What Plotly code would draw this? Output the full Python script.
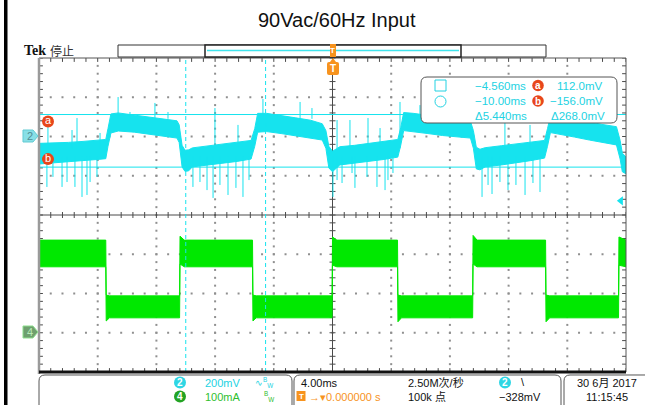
import numpy as np
import plotly.graph_objects as go

# ---------------- scope settings ----------------
TIME_DIV_MS = 4.0          # 4.00ms / div
CH2_MV_DIV = 200.0         # channel 2: 200mV / div
CH4_MA_DIV = 100.0         # channel 4: 100mA / div
CH2_POS_DIV = 2.0          # channel 2 ground marker position (div)
CH4_POS_DIV = -3.0         # channel 4 ground marker position (div)
TRIG_LEVEL_MV = -328.0
CURSOR_T_MS = [-4.560, -10.00]     # cursor a, b (time)
CURSOR_V_MV = [112.0, -156.0]      # cursor a, b (voltage)

# ---------------- channel 2 (cyan) envelope: time ms, upper / lower mV ----------------
ch2_t = [-20.00, -19.00, -18.00, -17.00, -16.00, -15.45,
         -15.30, -15.10, -14.60, -13.50, -12.50, -11.50, -10.60, -10.45,
         -10.25, -10.05, -9.80, -9.55, -8.50, -7.50, -6.50, -5.55,
         -5.30, -5.10, -4.50, -3.50, -2.50, -1.50, -0.70,
         -0.45, -0.25, 0.00, 0.20, 0.50, 1.50, 2.50, 3.50, 4.45,
         4.65, 4.85, 5.50, 6.50, 7.50, 8.50, 9.40,
         9.60, 9.80, 10.05, 10.40, 11.50, 12.50, 13.50, 14.45,
         14.65, 14.85, 15.50, 16.50, 17.50, 18.50, 19.35,
         19.60, 19.75, 20.00]
ch2_hi = [-35, -33, -30, -25, -20, -15,
          40, 115, 120, 110, 100, 90, 80, 60,
          -45, -70, -68, -58, -48, -40, -30, -20,
          40, 118, 118, 108, 95, 83, 65,
          30, -50, -75, -65, -52, -45, -35, -25, -15,
          45, 122, 118, 108, 98, 88, 78,
          30, -55, -65, -57, -47, -37, -27, -20,
          40, 104, 100, 88, 74, 60, 50,
          -20, -85, -105]
ch2_lo = [-140, -135, -130, -123, -117, -113,
          -50, 18, 28, 22, 12, 2, -8, -30,
          -155, -178, -175, -155, -145, -137, -127, -115,
          -50, 22, 25, 15, 2, -8, -18,
          -60, -160, -180, -165, -145, -137, -127, -117, -105,
          -45, 30, 25, 15, 5, -3, -8,
          -60, -165, -170, -155, -145, -135, -123, -110,
          -50, 20, 12, -3, -18, -33, -43,
          -115, -180, -190]

# ---------------- channel 2 glitches: time ms, start mV, end mV ----------------
spike_t = [-19.46, -19.05, -18.43, -18.09, -17.55, -17.07, -16.73, -16.52, -16.05,
           -19.39, -17.75, -17.41, -15.84,
           -14.61, -13.80, -12.10, -11.21,
           -9.51, -9.03, -8.55, -8.14, -7.67, -7.12, -6.58, -6.10, -5.69,
           -8.01, -6.44,
           -4.74, -2.21, -1.40,
           0.03, 0.31, 0.65, 1.33, 1.53, 2.35, 3.03, 3.58, 3.78, 4.12,
           0.31, 1.19, 2.42, 3.24, 4.60,
           5.96, 7.67,
           10.19, 10.60, 10.87, 11.41, 11.96, 12.50, 13.12, 13.66, 14.14,
           11.75, 13.46,
           15.50, 17.55]
spike_from = [-100, -100, -100, -100, -100, -100, -100, -100, -100,
              -60, -60, -60, -60,
              90, 90, 90, 90,
              -100, -100, -100, -100, -100, -100, -100, -100, -100,
              -60, -60,
              90, 90, 90,
              -100, -100, -100, -100, -100, -100, -100, -100, -100, -100,
              -60, -60, -60, -60, -60,
              90, 90,
              -100, -100, -100, -100, -100, -100, -100, -100, -100,
              -60, -60,
              70, 70]
spike_to = [-257, -206, -257, -232, -257, -308, -298, -232, -206,
            48, 33, 94, 18,
            201, 125, 171, 125,
            -257, -232, -273, -313, -247, -298, -262, -308, -222,
            145, 59,
            191, 176, 145,
            -308, -222, -237, -186, -262, -206, -257, -273, -222, -186,
            84, 84, 94, 43, 176,
            160, 145,
            -308, -247, -293, -232, -273, -247, -298, -237, -283,
            94, 59,
            160, 135]

# ---------------- channel 4 (green) envelope: time ms, upper / lower mA ----------------
ch4_t = [-20.00, -15.45, -15.42, -15.20, -10.42, -10.39, -10.10, -5.45, -5.42, -5.20,
         -0.03, 0.00, 0.30, 4.43, 4.46, 4.70, 9.55, 9.58, 9.85, 14.52, 14.55, 14.80,
         19.49, 19.52, 20.00]
ch4_hi = [236, 236, 96, 94, 94, 246, 236, 236, 96, 94,
          94, 244, 236, 236, 96, 94, 94, 248, 236, 236, 96, 94,
          94, 244, 236]
ch4_lo = [168, 168, 30, 38, 38, 175, 168, 168, 30, 38,
          38, 172, 168, 168, 28, 38, 38, 175, 168, 168, 28, 38,
          38, 172, 168]

# ---------------- colours ----------------
CYAN = "#16E3EE"
CYAN_TXT = "#22D2E2"
GREEN = "#00E800"
ORANGE = "#F7931E"
RED = "#E8461A"

# ---------------- geometry ----------------
W, H = 645, 405
PL, PR, PT, PB = 39, 626, 58, 372          # plot area in page pixels
XR = [-5 * TIME_DIV_MS, 5 * TIME_DIV_MS]
YR = [-4, 4]


def d2(v):
    return np.asarray(v, dtype=float) / CH2_MV_DIV + CH2_POS_DIV


def d4(v):
    return np.asarray(v, dtype=float) / CH4_MA_DIV + CH4_POS_DIV


def px(x):
    return (x - PL) / (PR - PL)


def py(y):
    return (PB - y) / (PB - PT)


def band(t, hi, lo, conv):
    xs = list(t) + list(t)[::-1] + [t[0]]
    ys = list(conv(hi)) + list(conv(lo))[::-1] + [conv(hi)[0]]
    return xs, ys


fig = go.Figure()

# graticule dots
gx, gy = [], []
for k in range(-4, 5):
    if k == 0:
        continue
    xv = k * TIME_DIV_MS
    for yv in np.arange(-4, 4.001, 0.2):
        gx.append(xv); gy.append(yv)
for j in range(-3, 4):
    if j == 0:
        continue
    for xv in np.arange(XR[0], XR[1] + 0.001, TIME_DIV_MS / 5):
        gx.append(xv); gy.append(j)
fig.add_trace(go.Scatter(x=gx, y=gy, mode="markers",
                         marker=dict(symbol="square", size=2, color="#8f8f8f", line=dict(width=0)),
                         hoverinfo="skip"))

# centre cross-hair with minor ticks, and edge ticks
cx, cy = [XR[0], XR[1], None, 0, 0, None], [0, 0, None, YR[0], YR[1], None]
tx_len = 3 / (PR - PL) * (XR[1] - XR[0])
ty_len = 3 / (PB - PT) * (YR[1] - YR[0])
for xv in np.arange(XR[0], XR[1] + 0.001, TIME_DIV_MS / 5):
    cx += [xv, xv, None]; cy += [-ty_len, ty_len, None]
    cx += [xv, xv, None]; cy += [YR[1], YR[1] - 1.3 * ty_len, None]
    cx += [xv, xv, None]; cy += [YR[0], YR[0] + 1.3 * ty_len, None]
for yv in np.arange(YR[0], YR[1] + 0.001, 0.2):
    cx += [-tx_len, tx_len, None]; cy += [yv, yv, None]
    cx += [XR[0], XR[0] + 1.3 * tx_len, None]; cy += [yv, yv, None]
    cx += [XR[1], XR[1] - 1.3 * tx_len, None]; cy += [yv, yv, None]
fig.add_trace(go.Scatter(x=cx, y=cy, mode="lines", line=dict(color="#4a4a4a", width=1),
                         hoverinfo="skip"))

# channel 4 band
bx, by = band(ch4_t, ch4_hi, ch4_lo, d4)
fig.add_trace(go.Scatter(x=bx, y=by, mode="lines", line=dict(color=GREEN, width=1),
                         fill="toself", fillcolor=GREEN, hoverinfo="skip"))

# channel 2 band
bx, by = band(ch2_t, ch2_hi, ch2_lo, d2)
fig.add_trace(go.Scatter(x=bx, y=by, mode="lines", line=dict(color=CYAN, width=1),
                         fill="toself", fillcolor=CYAN, hoverinfo="skip"))

# channel 2 glitches
sx, sy = [], []
for t, a, b in zip(spike_t, d2(spike_from), d2(spike_to)):
    sx += [t, t, None]; sy += [a, b, None]
fig.add_trace(go.Scatter(x=sx, y=sy, mode="lines", line=dict(color=CYAN, width=1),
                         hoverinfo="skip"))

# cursors
for v in CURSOR_V_MV:
    fig.add_trace(go.Scatter(x=XR, y=[d2(v)] * 2, mode="lines", line=dict(color=CYAN, width=1),
                             hoverinfo="skip"))
for t in CURSOR_T_MS:
    fig.add_trace(go.Scatter(x=[t, t], y=YR, mode="lines",
                             line=dict(color=CYAN, width=1, dash="4px,3px"), hoverinfo="skip"))

# cursor labels a / b
lab_t = XR[0] + 9 / (PR - PL) * (XR[1] - XR[0])
fig.add_trace(go.Scatter(x=[lab_t, lab_t],
                         y=[d2(CURSOR_V_MV[0]) - 7 / (PB - PT) * 8, d2(CURSOR_V_MV[1]) + 8 / (PB - PT) * 8],
                         mode="markers+text", text=["a", "b"],
                         textfont=dict(color="white", size=11, family="Liberation Sans"),
                         textposition="middle center",
                         marker=dict(size=12, color=RED, line=dict(width=0)), hoverinfo="skip"))

# trigger level arrow (right edge)
fig.add_trace(go.Scatter(x=[XR[1] - 0.35], y=[d2(TRIG_LEVEL_MV)], mode="markers",
                         marker=dict(symbol="triangle-left", size=8, color=CYAN), hoverinfo="skip",
                         cliponaxis=False))

# ---------------- shapes ----------------
shapes = []


def line_px(x0, y0, x1, y1, color, width, dash=None):
    d = dict(type="line", xref="paper", yref="paper", x0=px(x0), y0=py(y0), x1=px(x1), y1=py(y1),
             line=dict(color=color, width=width), layer="above")
    if dash:
        d["line"]["dash"] = dash
    shapes.append(d)


def rect_px(x0, y0, x1, y1, fill, color, width):
    shapes.append(dict(type="rect", xref="paper", yref="paper", x0=px(x0), y0=py(y0), x1=px(x1), y1=py(y1),
                       fillcolor=fill, line=dict(color=color, width=width), layer="above"))


def path_px(points, fill, color, width, close=True):
    p = "M " + " L ".join(f"{px(a):.5f},{py(b):.5f}" for a, b in points)
    if close:
        p += " Z"
    shapes.append(dict(type="path", xref="paper", yref="paper", path=p, fillcolor=fill,
                       line=dict(color=color, width=width), layer="above"))


def rrect_px(x0, y0, x1, y1, r, fill, color, width):
    P = lambda a, b: f"{px(a):.5f},{py(b):.5f}"
    p = (f"M {P(x0 + r, y0)} L {P(x1 - r, y0)} Q {P(x1, y0)} {P(x1, y0 + r)} "
         f"L {P(x1, y1 - r)} Q {P(x1, y1)} {P(x1 - r, y1)} L {P(x0 + r, y1)} "
         f"Q {P(x0, y1)} {P(x0, y1 - r)} L {P(x0, y0 + r)} Q {P(x0, y0)} {P(x0 + r, y0)} Z")
    shapes.append(dict(type="path", xref="paper", yref="paper", path=p, fillcolor=fill,
                       line=dict(color=color, width=width), layer="above"))


def circle_px(cx_, cy_, r, fill, color="rgba(0,0,0,0)", width=0):
    shapes.append(dict(type="circle", xref="paper", yref="paper", x0=px(cx_ - r), y0=py(cy_ + r),
                       x1=px(cx_ + r), y1=py(cy_ - r), fillcolor=fill,
                       line=dict(color=color, width=width), layer="above"))


# left black bar
rect_px(4, 0, 7.5, 405, "black", "black", 0)

# graticule frame
line_px(PL, PT, PR, PT, "#555555", 1)
line_px(PR, PT, PR, PB, "#555555", 1)
line_px(PL, PT, PL, PB + 2, "#9a9a9a", 2.5)
line_px(PL, PB, PR, PB, "#111111", 3)

# record bar
rect_px(118, 45, 546, 57, "white", "#333333", 1)
rect_px(205, 45, 461, 57, "white", "#222222", 1.5)
line_px(207, 50.5, 459, 50.5, "#3FE3EC", 1.5)
rect_px(330, 44, 336, 57, ORANGE, ORANGE, 0)
path_px([(330, 62), (333, 58), (336, 62)], ORANGE, ORANGE, 0)
rrect_px(327, 62, 339, 75, 2, ORANGE, ORANGE, 0)

# channel markers
path_px([(23, 130), (33, 130), (38, 136), (33, 142), (23, 142)], "#88DFE6", "#62CBD3", 1)
path_px([(23, 326), (33, 326), (38, 332), (33, 338), (23, 338)], "#6E9F6E", "#8FE08F", 1)

# cursor readout box
rrect_px(421, 77, 617, 123, 6, "white", "#555555", 1)
rect_px(435, 80, 446, 91, "white", CYAN_TXT, 1)
circle_px(440.5, 101.5, 5.5, "white", CYAN_TXT, 1)
circle_px(538, 85.5, 5.8, RED)
circle_px(538, 101, 5.8, RED)

# status boxes
rrect_px(39, 375, 292, 412, 6, "white", "#555555", 1)
rrect_px(294, 375, 561, 412, 6, "white", "#555555", 1)
rrect_px(564, 375, 660, 412, 6, "white", "#555555", 1)
circle_px(180, 382.5, 6, "#2ED6E4")
circle_px(180, 396.5, 6, "#23A323")
rect_px(296.5, 391, 305.5, 401, ORANGE, ORANGE, 0)

# ---------------- annotations ----------------
anns = []
FONT = "Liberation Sans, Arial, sans-serif"


def text_px(x, y, s, size=11, color="black", anchor="left", family=FONT):
    anns.append(dict(x=px(x), y=py(y), xref="paper", yref="paper", text=s, showarrow=False,
                     xanchor=anchor, yanchor="middle", font=dict(size=size, color=color, family=family)))


text_px(337, 20, "90Vac/60Hz Input", 20, "#111111", "center")
text_px(22, 51, "<b>Tek</b>", 14, "#111111", "left", "Liberation Serif, Times New Roman, serif")
text_px(48, 51, "停止", 12, "#333333", "left", "Noto Sans CJK SC")
text_px(333, 50.5, "<b>T</b>", 8, "white", "center")
text_px(333, 68.5, "<b>T</b>", 10, "white", "center")
text_px(30, 136, "2", 11, "#4F8E95", "center")
text_px(30, 332, "4", 11, "#B8EAB8", "center")

# readout
text_px(473, 85.5, "\u22124.560ms", 11.5, CYAN_TXT)
text_px(473, 101, "\u221210.00ms", 11.5, CYAN_TXT)
text_px(473, 115.5, "\u03945.440ms", 11.5, CYAN_TXT)
text_px(605, 85.5, "112.0mV", 11.5, CYAN_TXT, "right")
text_px(605, 101, "\u2212156.0mV", 11.5, CYAN_TXT, "right")
text_px(607, 115.5, "\u0394268.0mV", 11.5, CYAN_TXT, "right")
text_px(538, 85.5, "<b>a</b>", 10, "white", "center")
text_px(538, 101, "<b>b</b>", 10, "white", "center")

# status line
text_px(180, 382.5, "<b>2</b>", 10, "white", "center")
text_px(180, 396.5, "<b>4</b>", 10, "white", "center")
text_px(203, 382.5, "200mV", 11, CYAN_TXT)
text_px(203, 396.5, "100mA", 11, "#2FC02F")
text_px(253, 382, "\u223f<sup>B</sup><sub>W</sub>", 9, CYAN_TXT)
text_px(262, 396, "<sup>B</sup><sub>W</sub>", 9, "#2FC02F")
text_px(299, 382.5, "4.00ms", 11, "#111111")
text_px(301, 396.5, "<b>T</b>", 8, "white", "center")
text_px(307, 396.5, "\u2192\u25be0.000000 s", 11, ORANGE)
text_px(406, 382.5, "2.50M次/秒", 11, "#111111", "left", "Liberation Sans, Noto Sans CJK SC")
text_px(406, 396.5, "100k 点", 11, "#111111", "left", "Liberation Sans, Noto Sans CJK SC")
circle_px(505, 382.5, 6, "#2ED6E4")
text_px(505, 382.5, "<b>2</b>", 10, "white", "center")
text_px(519, 382, "\\", 11, "#111111")
text_px(497, 396.5, "\u2212328mV", 11, "#111111")
text_px(575, 382.5, "30 6月 2017", 11, "#111111", "left", "Liberation Sans, Noto Sans CJK SC")
text_px(584, 396.5, "11:15:45", 11, "#111111")

fig.update_layout(
    width=W, height=H, autosize=False,
    margin=dict(l=PL, r=W - PR, t=PT, b=H - PB, pad=0),
    paper_bgcolor="white", plot_bgcolor="white",
    showlegend=False,
    xaxis=dict(range=XR, visible=False, showgrid=False, zeroline=False, fixedrange=True),
    yaxis=dict(range=YR, visible=False, showgrid=False, zeroline=False, fixedrange=True),
    shapes=shapes, annotations=anns,
    font=dict(family=FONT),
)

fig.write_html("out.html", config={"displayModeBar": False})
